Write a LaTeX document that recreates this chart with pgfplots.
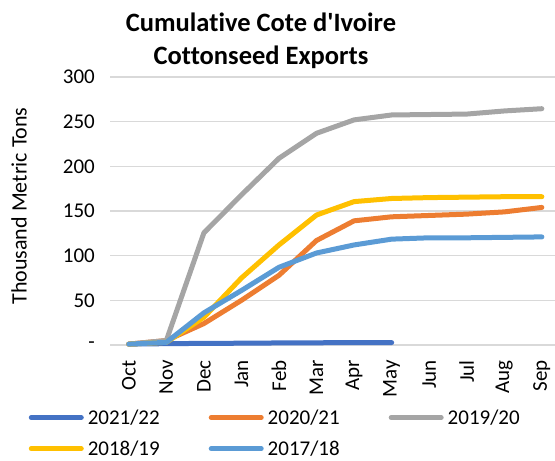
\documentclass[border=0pt]{standalone}
\usepackage{fontspec}
\setmainfont{Carlito}[Ligatures={NoCommon}]
\usepackage{pgfplots}
\pgfplotsset{compat=1.18}
\definecolor{c2122}{HTML}{4472C4}
\definecolor{c2021}{HTML}{ED7D31}
\definecolor{c1920}{HTML}{A5A5A5}
\definecolor{c1819}{HTML}{FFC000}
\definecolor{c1718}{HTML}{5B9BD5}
\definecolor{gridgray}{HTML}{D9D9D9}
\begin{document}
\begin{tikzpicture}
\useasboundingbox (0pt,0pt) rectangle (555pt,461pt);
\node[font=\bfseries\fontsize{26.5}{33}\selectfont,align=center,anchor=center]
  at (261pt,420pt) {Cumulative Cote d\textquotesingle Ivoire\\Cottonseed Exports};
\node[rotate=90,font=\fontsize{22}{26}\selectfont,anchor=center]
  at (19pt,255pt) {Thousand Metric Tons};
\begin{axis}[
  at={(110pt,116pt)}, anchor=south west,
  scale only axis, width=445pt, height=268pt,
  xmin=-0.5, xmax=11.35, ymin=0, ymax=300,
  xtick={0,...,11},
  xticklabels={Oct,Nov,Dec,Jan,Feb,Mar,Apr,May,Jun,Jul,Aug,Sep},
  ytick={0,50,...,300},
  yticklabels={-\hspace{25pt},50,100,150,200,250,300},
  tick label style={font=\fontsize{21}{25}\selectfont},
  xticklabel style={rotate=90,anchor=east,inner sep=0pt},
  xticklabel shift=15pt,
  yticklabel style={inner sep=0pt},
  yticklabel shift=15pt,
  axis line style={draw=none},
  major tick length=0pt,
  ymajorgrids, grid style={gridgray,line width=1.5pt},
  clip=false,
  every axis plot/.append style={line width=5pt,line join=round,line cap=round,mark=none},
  legend columns=3,
  legend image code/.code={\draw[#1] (0pt,0pt) -- (50pt,0pt);},
  legend style={at={(-0.183,-0.240)},anchor=north west,draw=none,fill=none,
    inner sep=0pt,row sep=15pt,
    font=\fontsize{21}{25}\selectfont,
    nodes={inner sep=0pt},
    /tikz/every odd column/.append style={column sep=4pt},
    /tikz/every even column/.append style={column sep=49pt}},
  legend cell align=left,
]
\addplot[c2122] coordinates {(0,1) (1,1.5) (2,1.8) (3,2) (4,2.3) (5,2.5) (6,2.6) (7,2.7)};
\addplot[c2021] coordinates {(0,1) (1,5) (2,24) (3,50) (4,78) (5,117) (6,139) (7,143.5) (8,145) (9,146.5) (10,149) (11,154)};
\addplot[c1920] coordinates {(0,1) (1,5) (2,125.5) (3,168) (4,209) (5,237) (6,252) (7,257.5) (8,258) (9,258.5) (10,262) (11,264.5)};
\addplot[c1819] coordinates {(0,1) (1,3) (2,31) (3,75) (4,112) (5,145.5) (6,160.5) (7,164) (8,165) (9,165.5) (10,166) (11,166)};
\addplot[c1718] coordinates {(0,1) (1,3) (2,36) (3,61) (4,87) (5,103) (6,112) (7,118.5) (8,120) (9,120) (10,120.5) (11,121)};
\legend{2021/22,2020/21,2019/20,2018/19,2017/18}
\end{axis}
\end{tikzpicture}
\end{document}
